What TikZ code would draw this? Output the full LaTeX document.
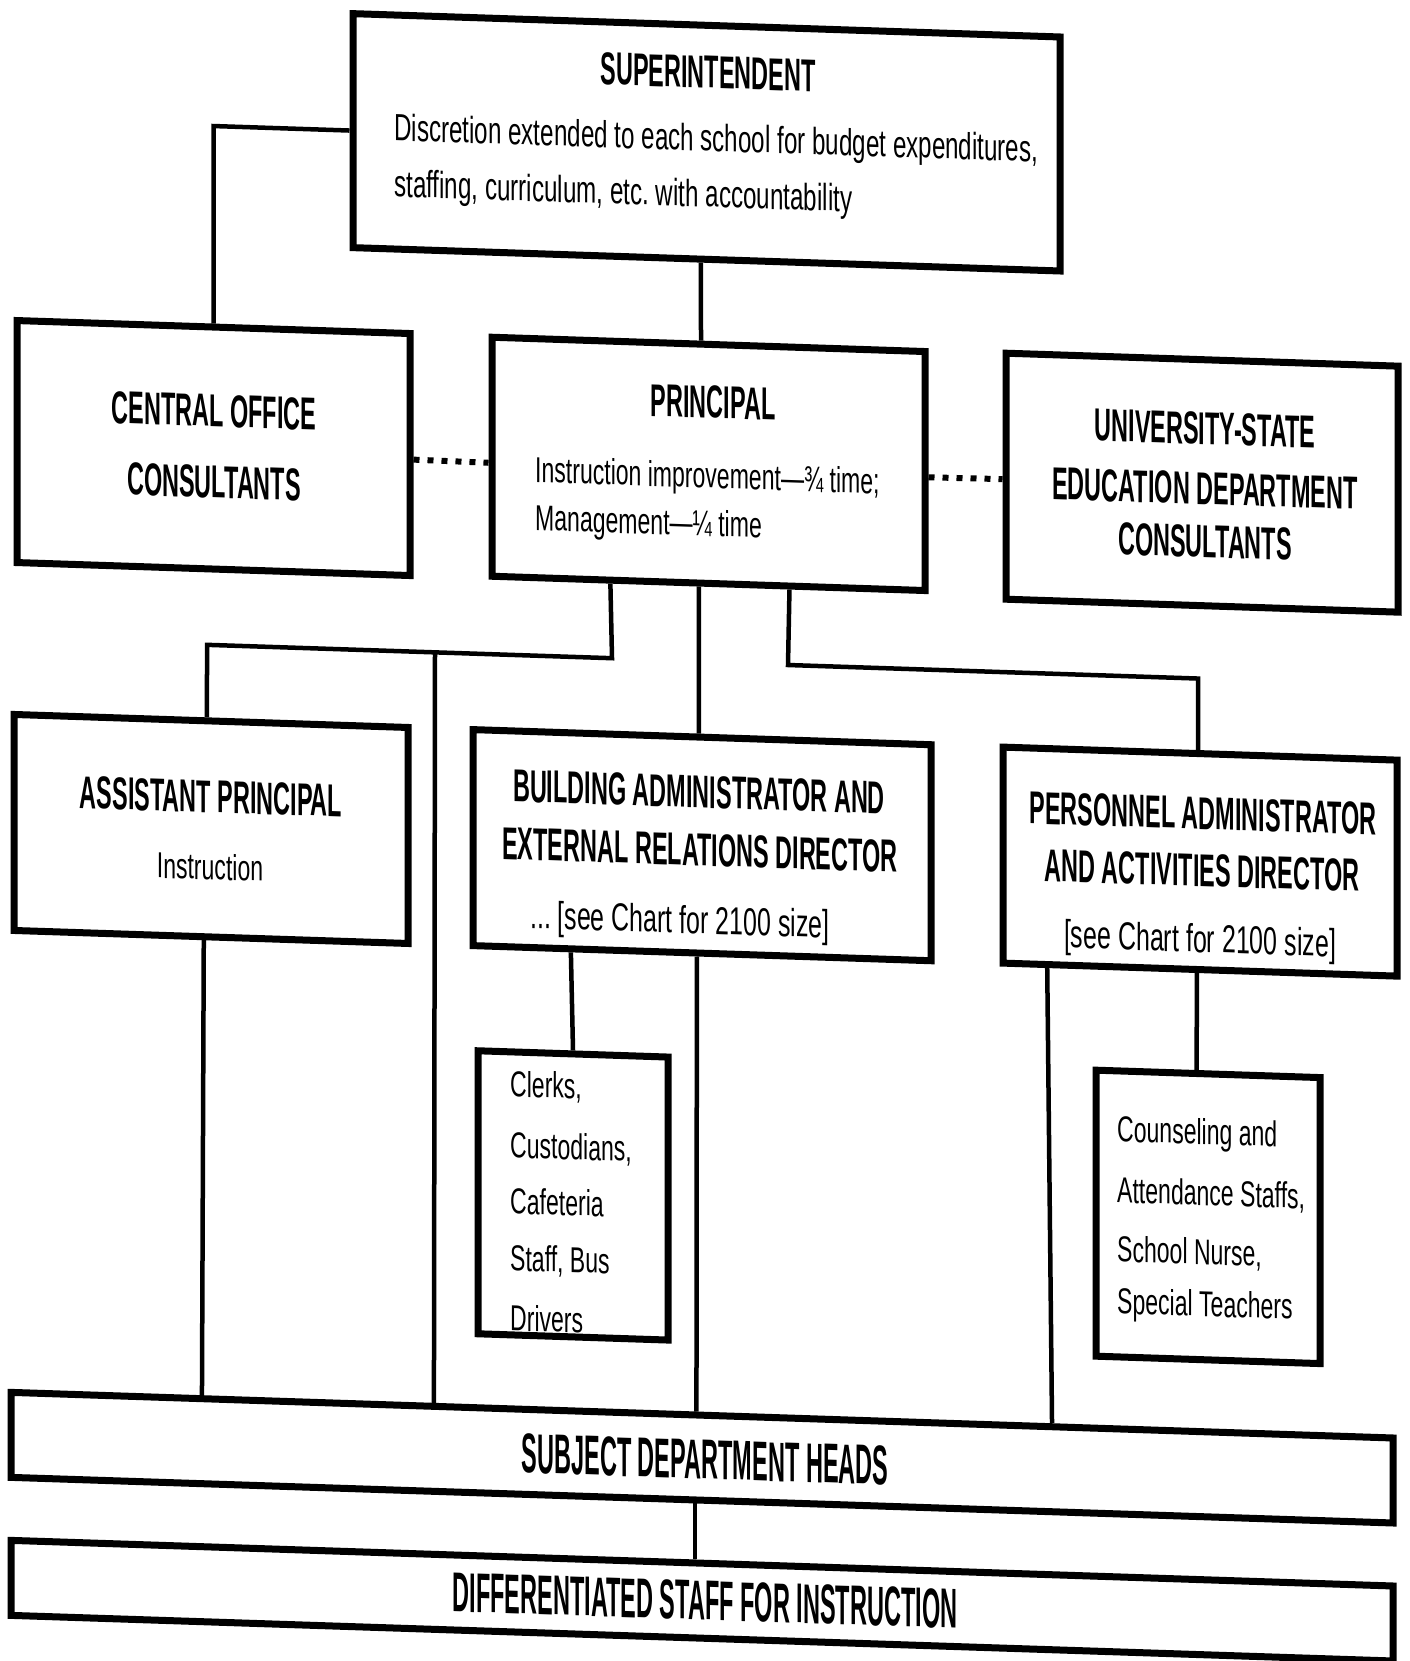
\documentclass[tikz,border=0pt]{standalone}
\usepackage{fontspec}
\setmainfont{Liberation Sans}
\newfontfamily\headfont{Liberation Sans}[FakeStretch=0.51]
\newfontfamily\barfont{Liberation Sans}[FakeStretch=0.42]
\newfontfamily\bodyfont{Liberation Sans}[FakeStretch=0.64]
\usetikzlibrary{calc}

\tikzset{
  box/.style={draw, rectangle, line width=7pt, inner sep=0pt},
  link/.style={line width=4.5pt, line join=miter},
  dotlink/.style={line width=6pt, dash pattern=on 6pt off 8pt},
  head/.style={font=\headfont\bfseries\fontsize{46}{55}\selectfont, inner sep=0pt, anchor=mid},
  barhead/.style={font=\barfont\bfseries\fontsize{56}{66}\selectfont, inner sep=0pt, anchor=mid},
  body/.style={font=\bodyfont\fontsize{36}{44}\selectfont, inner sep=0pt, anchor=mid},
  bodyl/.style={body, anchor=mid west},
  bigbodyl/.style={bodyl, font=\bodyfont\fontsize{37.8}{46}\selectfont},
  note/.style={body, font=\bodyfont\fontsize{39}{46}\selectfont},
}

\begin{document}
\begin{tikzpicture}[x=1pt, y=-1pt]
\useasboundingbox (0,0) rectangle (1409,1661);
\fill[white] (0,0) rectangle (1409,1661);

\begin{scope}[yslant=-0.033, transform shape]
  % boxes
  \node[box, minimum width=707pt, minimum height=234pt] (sup) at (706.5,119) {};
  \node[box, minimum width=393pt, minimum height=242pt] (co) at (213.5,441) {};
  \node[box, minimum width=433pt, minimum height=239pt] (pri) at (708.5,440.5) {};
  \node[box, minimum width=392pt, minimum height=246pt] (uni) at (1202,443) {};
  \node[box, minimum width=394pt, minimum height=216pt] (ap) at (211,822) {};
  \node[box, minimum width=458pt, minimum height=216pt] (ba) at (702,822) {};
  \node[box, minimum width=394pt, minimum height=216pt] (pa) at (1200,822) {};
  \node[box, minimum width=190pt, minimum height=283pt] (clk) at (573,1176.5) {};
  \node[box, minimum width=224pt, minimum height=286pt] (cou) at (1208,1177) {};
  \node[box, minimum width=1382pt, minimum height=85pt] (sdh) at (702,1434.5) {};
  \node[box, minimum width=1382pt, minimum height=75pt] (dsi) at (702,1577.5) {};

  % texts
  \node[head] (supT) at (708,62) {SUPERINTENDENT};
  \node[bigbodyl] (supA) at (394,125) {Discretion extended to each school for budget expenditures,};
  \node[bigbodyl] (supB) at (394,181) {staffing, curriculum, etc.\ with accountability};

  \node[head] (coA) at (214,417) {CENTRAL OFFICE};
  \node[head] (coB) at (214,488) {CONSULTANTS};

  \node[head] (priT) at (713,392) {PRINCIPAL};
  \node[bodyl] (priA) at (535,462) {Instruction improvement—¾ time;};
  \node[bodyl] (priB) at (535,510) {Management—¼ time};

  \node[head] (uniA) at (1205,402) {UNIVERSITY-STATE};
  \node[head] (uniB) at (1205,462) {EDUCATION DEPARTMENT};
  \node[head] (uniC) at (1205,515) {CONSULTANTS};

  \node[head] (apT) at (211,803) {ASSISTANT PRINCIPAL};
  \node[body] (apA) at (210,870) {Instruction};

  \node[head] (baA) at (699,782) {BUILDING ADMINISTRATOR AND};
  \node[head] (baB) at (700,840) {EXTERNAL RELATIONS DIRECTOR};
  \node[note] (baC) at (680,908) {...\,[see Chart for 2100 size]};

  \node[head] (paA) at (1203,787) {PERSONNEL ADMINISTRATOR};
  \node[head] (paB) at (1202,844) {AND ACTIVITIES DIRECTOR};
  \node[note] (paC) at (1200,910) {[see Chart for 2100 size]};

  \node[bodyl] (clkA) at (510,1077) {Clerks,};
  \node[bodyl] (clkB) at (510,1138) {Custodians,};
  \node[bodyl] (clkC) at (510,1194) {Cafeteria};
  \node[bodyl] (clkD) at (510,1251) {Staff, Bus};
  \node[bodyl] (clkE) at (510,1311) {Drivers};

  \node[bodyl] (couA) at (1117,1102) {Counseling and};
  \node[bodyl] (couB) at (1117,1163) {Attendance Staffs,};
  \node[bodyl] (couC) at (1117,1222) {School Nurse,};
  \node[bodyl] (couD) at (1117,1274) {Special Teachers};

  \node[barhead] (sdhT) at (705,1453) {SUBJECT DEPARTMENT HEADS};
  \node[barhead] (dsiT) at (705,1594) {DIFFERENTIATED STAFF FOR INSTRUCTION};

  % bend points of the connectors
  \coordinate (k1) at (213.5,119);
  \coordinate (j1) at (612,638);
  \coordinate (j2) at (207,638);
  \coordinate (j3) at (435,638);
  \coordinate (j4) at (788,639);
  \coordinate (j5) at (1198,639);

  % superintendent links
  \draw[link] (sup.west) -- (k1) -- (co.north);
  \draw[link] ($(sup.south west)!0.492!(sup.south east)$) -- ($(pri.north west)!0.483!(pri.north east)$);

  % consultants (dotted)
  \draw[dotlink] ($(co.north east)!0.52!(co.south east)$) -- ($(pri.north west)!0.525!(pri.south west)$);
  \draw[dotlink] ($(pri.north east)!0.525!(pri.south east)$) -- ($(uni.north west)!0.512!(uni.south west)$);

  % principal to the second row
  \draw[link] ($(pri.south west)!0.277!(pri.south east)$) -- (j1) -- (j2) -- ($(ap.north west)!0.49!(ap.north east)$);
  \draw[link] (j3) -- ($(sdh.north west)!0.307!(sdh.north east)$);
  \draw[link] ($(pri.south west)!0.478!(pri.south east)$) -- ($(ba.north west)!0.493!(ba.north east)$);
  \draw[link] ($(pri.south west)!0.684!(pri.south east)$) -- (j4) -- (j5) -- ($(pa.north west)!0.495!(pa.north east)$);

  % second row downwards
  \draw[link] ($(ap.south west)!0.482!(ap.south east)$) -- ($(sdh.north west)!0.140!(sdh.north east)$);
  \draw[link] ($(ba.south west)!0.218!(ba.south east)$) -- (clk.north);
  \draw[link] ($(ba.south west)!0.489!(ba.south east)$) -- ($(sdh.north west)!0.496!(sdh.north east)$);
  \draw[link] ($(pa.south west)!0.119!(pa.south east)$) -- ($(sdh.north west)!0.752!(sdh.north east)$);
  \draw[link] ($(pa.south west)!0.492!(pa.south east)$) -- ($(cou.north west)!0.451!(cou.north east)$);

  % department heads to staff
  \draw[link] ($(sdh.south west)!0.495!(sdh.south east)$) -- ($(dsi.north west)!0.495!(dsi.north east)$);
\end{scope}
\end{tikzpicture}
\end{document}
